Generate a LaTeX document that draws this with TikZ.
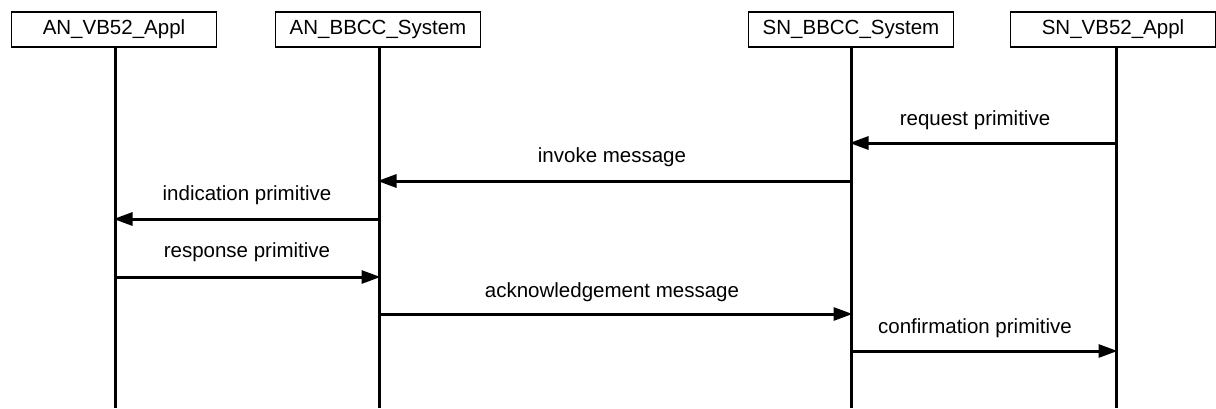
\documentclass[tikz,border=0pt]{standalone}
\usepackage{fontspec}
\setmainfont{Liberation Sans}
\usetikzlibrary{arrows.meta}
\begin{document}
\begin{tikzpicture}[x=1pt,y=-1pt,
  every node/.style={font=\fontsize{20.5}{24}\selectfont, inner sep=0pt},
  actor/.style={draw, line width=1.5pt, minimum width=205pt, minimum height=35pt, anchor=north},
  life/.style={line width=3pt},
  msg/.style={line width=3pt, -{Triangle[length=19pt,width=13pt]}, shorten >=-1.5pt},
  lbl/.style={anchor=center}]
\useasboundingbox (0,0) rectangle (1216,408);
\node[actor] (a1) at (114,11) {AN\_VB52\_Appl};
\node[actor] (a2) at (378,11) {AN\_BBCC\_System};
\node[actor] (a3) at (851,11) {SN\_BBCC\_System};
\node[actor] (a4) at (1113,11) {SN\_VB52\_Appl};
\coordinate (e1) at (115,408);
\coordinate (e2) at (379,408);
\coordinate (e3) at (851,408);
\coordinate (e4) at (1116,408);
\draw[life] (e1 |- a1.south) -- (e1);
\draw[life] (e2 |- a2.south) -- (e2);
\draw[life] (e3 |- a3.south) -- (e3);
\draw[life] (e4 |- a4.south) -- (e4);
% messages
\draw[msg] (e4 |- 0,143) -- (e3 |- 0,143);
\node[lbl] (m1) at (975,120) {request primitive};
\draw[msg] (e3 |- 0,181) -- (e2 |- 0,181);
\node[lbl] (m2) at (612,157) {invoke message};
\draw[msg] (e2 |- 0,219) -- (e1 |- 0,219);
\node[lbl] (m3) at (247,195) {indication primitive};
\draw[msg] (e1 |- 0,277) -- (e2 |- 0,277);
\node[lbl] (m4) at (247,252) {response primitive};
\draw[msg] (e2 |- 0,314) -- (e3 |- 0,314);
\node[lbl] (m5) at (612,292) {acknowledgement message};
\draw[msg] (e3 |- 0,351) -- (e4 |- 0,351);
\node[lbl] (m6) at (975,328) {confirmation primitive};
\end{tikzpicture}
\end{document}
